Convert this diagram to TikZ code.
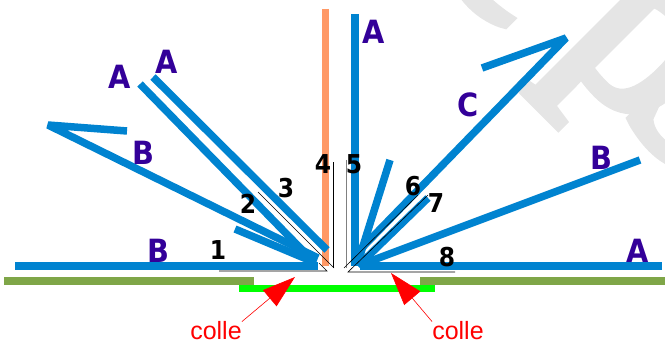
\documentclass[tikz,border=0pt]{standalone}
\usepackage{fontspec}
\setmainfont{Liberation Sans}
\newfontfamily\markfont[FakeBold=4]{Liberation Serif}
\newfontfamily\labelfont[FakeStretch=0.9]{DejaVu Sans}
\usetikzlibrary{arrows.meta}
\definecolor{fold}{HTML}{0083D0}
\definecolor{peach}{HTML}{FF9966}
\definecolor{olive}{HTML}{7FA648}
\definecolor{ink}{HTML}{330099}
\definecolor{wmark}{HTML}{E5E5E5}
\begin{document}
\begin{tikzpicture}[x=1pt, y=-1pt,
    sheet/.style={fold, line width=7.5pt, line join=bevel},
    crease/.style={black, line width=0.6pt},
    letter/.style={ink, inner sep=0pt, font=\fontsize{32}{32}\labelfont\selectfont\bfseries},
    number/.style={black, inner sep=0pt, font=\fontsize{26}{26}\labelfont\selectfont\bfseries},
    glue/.style={red, inner sep=0pt, font=\fontsize{25}{25}\selectfont},
    gluearrow/.style={red, line width=0.6pt, -{Triangle[length=33pt, width=21pt]}}]
      \useasboundingbox (0, 0) rectangle (665, 345);

      % watermark
      \begin{scope}
        \clip (0, 0) rectangle (665, 345);
        \node[wmark, rotate=-45, anchor=base west, inner sep=0pt, font=\fontsize{250}{250}\markfont\selectfont] (wm) at (449, -59) {\raisebox{-26pt}{e}\kern38pt p\kern-30pt s};
      \end{scope}

      % base
      \draw[olive, line width=7.5pt] (4, 281) -- (254, 281);
      \draw[olive, line width=7.5pt] (420, 281) -- (665, 281);
      \draw[green, line width=7.5pt] (239, 288.5) -- (435, 288.5);

      % left side
      \draw[peach, line width=7.5pt] (325.7, 9) -- (325.7, 266);
      \draw[sheet] (15, 266) -- (318, 266);
      \draw[sheet] (127, 131) -- (48, 125) -- (318, 258);
      \draw[sheet] (235, 229) -- (316, 263);
      \draw[sheet] (140, 84) -- (312, 260);
      \draw[sheet] (153, 77) -- (327, 250);

      % right side
      \draw[sheet] (355, 14) -- (355, 266);
      \draw[sheet] (390, 160) -- (358, 262);
      \draw[sheet] (482, 68) -- (566, 38) -- (354, 256);
      \draw[sheet] (428, 198) -- (358, 266);
      \draw[sheet] (640, 160) -- (360, 265);
      \draw[sheet] (360, 266) -- (662, 266);

      % creases
      \draw[crease] (219, 271) -- (327, 271) -- (319, 263);
      \draw[crease] (258, 192) -- (334, 268);
      \draw[crease] (333, 162) -- (333, 268);
      \draw[gray, line width=0.8pt] (346, 160) -- (346, 268);
      \draw[crease] (344, 268) -- (418, 195);
      \draw[crease] (455, 272) -- (348, 272) -- (428, 195);

      \node[letter] (a1) at (120, 77) {A};
      \node[letter] (a2) at (167, 62) {A};
      \node[letter] (a3) at (374, 32) {A};
      \node[letter] (a4) at (638, 251) {A};
      \node[letter] (b1) at (143, 153) {B};
      \node[letter] (b2) at (158, 251) {B};
      \node[letter] (b3) at (601, 158) {B};
      \node[letter] (c1) at (468, 105) {C};

      \node[number] (n1) at (218, 250) {1};
      \node[number] (n2) at (248, 204) {2};
      \node[number] (n3) at (286, 188) {3};
      \node[number] (n4) at (323, 164) {4};
      \node[number] (n5) at (354, 164) {5};
      \node[number] (n6) at (413, 186) {6};
      \node[number] (n7) at (436, 203) {7};
      \node[number] (n8) at (447, 257) {8};

      \node[glue] (colleL) at (216, 331) {colle};
      \node[glue] (colleR) at (458, 331) {colle};
      \coordinate (tipL) at (295, 277);
      \coordinate (tipR) at (391, 273);
      \draw[gluearrow] (colleL.north east) -- (tipL);
      \draw[gluearrow] (colleR.north west) -- (tipR);
    \end{tikzpicture}
\end{document}
